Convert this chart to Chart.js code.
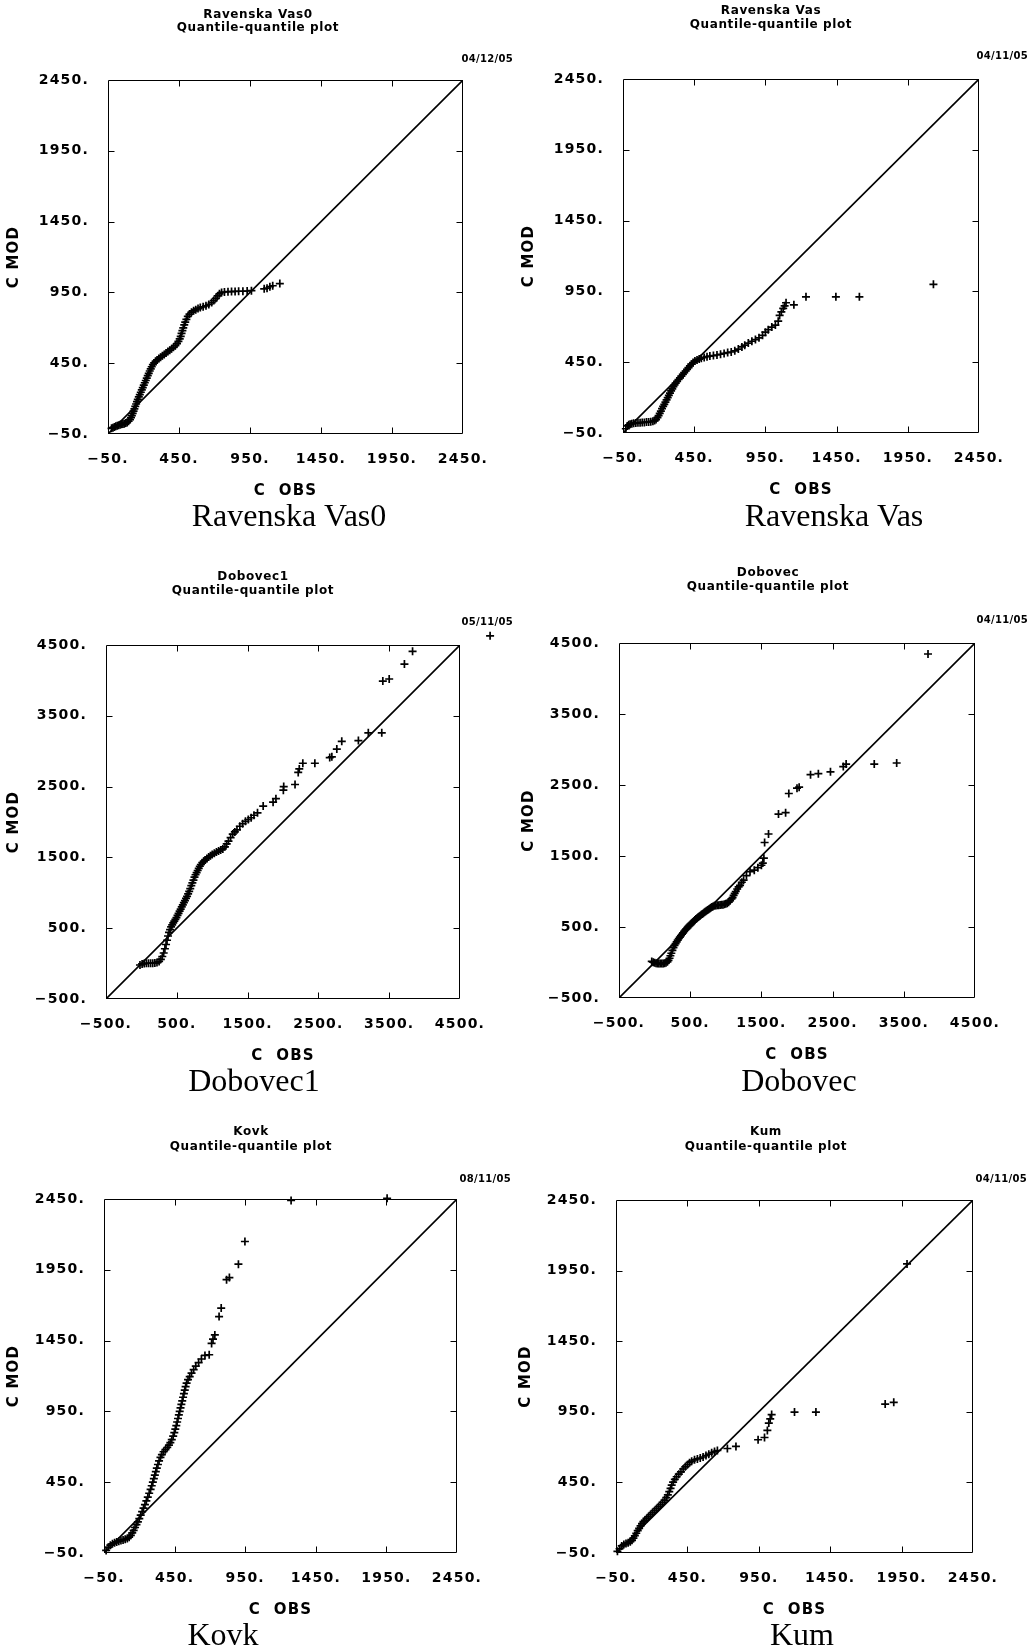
<!DOCTYPE html>
<html>
<head>
<meta charset="utf-8">
<script src="https://cdn.jsdelivr.net/npm/chart.js@4.4.1/dist/chart.umd.min.js"></script>
<style>
  html, body { margin: 0; padding: 0; background: #fff; }
  #page { position: relative; width: 1034px; height: 1650px; background: #fff; overflow: hidden; }
  canvas { position: absolute; }
</style>
</head>
<body>
<div id="page"></div>
<script>
// ---------- DATA ----------
const ticks2450 = [-50, 450, 950, 1450, 1950, 2450];
const ticks4500 = [-500, 500, 1500, 2500, 3500, 4500];

const stationNames = ['Ravenska Vas0', 'Ravenska Vas', 'Dobovec1', 'Dobovec', 'Kovk', 'Kum'];
const plotDates = ['04/12/05', '04/11/05', '05/11/05', '04/11/05', '08/11/05', '04/11/05'];
const plotSubtitle = 'Quantile-quantile plot';
const xAxisTitle = 'C  OBS';
const yAxisTitle = 'C MOD';

// [C OBS, C MOD] quantile pairs
const ravenskaVas0QQ = [[-25,-10],[-15,-5],[-5,0],[5,5],[15,8],[25,12],[35,15],[45,18],[55,20],[65,23],[75,27],[85,32],[95,40],[105,52],[112,65],[118,80],[124,95],[130,112],[136,128],[142,145],[148,162],[154,178],[160,195],[167,212],[174,228],[181,245],[188,262],[195,278],[202,295],[209,312],[216,328],[223,345],[230,362],[237,378],[244,395],[251,410],[258,425],[266,440],[275,452],[285,463],[296,473],[308,483],[320,492],[333,502],[346,512],[359,522],[372,532],[385,542],[398,552],[411,562],[424,574],[436,588],[446,604],[455,622],[462,640],[468,660],[474,680],[480,700],[487,720],[494,740],[502,760],[512,780],[524,797],[538,810],[553,820],[568,828],[584,836],[600,843],[620,848],[640,855],[660,865],[680,878],[695,892],[710,908],[722,925],[735,940],[750,950],[770,953],[795,955],[820,956],[845,957],[870,958],[900,958],[930,960],[960,962],[1050,975],[1070,980],[1090,990],[1110,997],[1160,1012]];

const ravenskaVasQQ = [[-30,-20],[-20,0],[-10,8],[0,12],[12,15],[25,18],[40,20],[55,22],[70,23],[85,24],[100,25],[115,27],[130,28],[145,30],[160,33],[172,38],[182,45],[192,58],[200,72],[208,88],[216,105],[224,122],[232,138],[240,152],[248,168],[256,184],[264,200],[272,216],[280,232],[288,248],[296,262],[304,277],[312,290],[320,302],[330,315],[340,328],[350,340],[360,352],[370,364],[380,376],[390,388],[400,400],[410,412],[420,424],[430,436],[442,448],[455,458],[470,466],[485,472],[500,478],[520,484],[540,489],[560,493],[585,497],[610,501],[635,506],[660,512],[685,518],[710,522],[735,530],[760,543],[785,558],[805,570],[830,585],[855,598],[880,610],[905,622],[930,640],[950,662],[970,680],[995,698],[1020,712],[1040,740],[1050,780],[1062,805],[1075,830],[1085,848],[1095,870],[1150,855],[1235,912],[1445,912],[1610,912],[2130,1000]];

const dobovec1QQ = [[-20,-20],[10,-5],[40,0],[70,5],[100,5],[130,5],[160,5],[190,8],[220,15],[250,30],[275,60],[295,100],[315,150],[332,210],[348,270],[362,330],[376,390],[390,440],[405,480],[420,520],[435,548],[450,575],[465,600],[480,625],[495,650],[510,680],[525,710],[540,740],[555,770],[570,800],[585,830],[600,860],[615,890],[630,920],[645,950],[660,985],[675,1020],[690,1060],[705,1100],[720,1140],[735,1180],[750,1220],[765,1255],[780,1285],[795,1315],[810,1345],[825,1375],[840,1400],[860,1425],[880,1445],[900,1462],[925,1485],[950,1505],[975,1522],[1000,1540],[1030,1560],[1060,1575],[1090,1590],[1120,1605],[1150,1620],[1180,1650],[1205,1690],[1230,1730],[1260,1780],[1290,1830],[1320,1860],[1350,1890],[1390,1940],[1430,1975],[1470,2010],[1510,2035],[1550,2060],[1590,2095],[1640,2130],[1720,2225],[1860,2280],[1900,2330],[2005,2450],[2010,2500],[2170,2530],[2215,2700],[2230,2750],[2280,2830],[2450,2830],[2660,2910],[2690,2920],[2760,3030],[2830,3140],[3065,3150],[3205,3260],[3395,3260],[3410,3990],[3500,4020],[3715,4230],[3830,4410],[4925,4630]];

const dobovecQQ = [[-40,15],[-20,5],[0,-5],[20,-12],[40,-15],[60,-15],[80,-15],[100,-15],[120,-15],[140,-12],[160,-5],[180,10],[195,30],[210,60],[222,95],[235,130],[250,170],[265,210],[280,240],[295,265],[310,290],[325,315],[340,338],[355,358],[370,378],[385,398],[400,418],[415,438],[430,458],[445,475],[460,492],[475,508],[490,522],[505,536],[520,552],[535,567],[550,582],[565,597],[580,612],[595,625],[610,637],[625,648],[640,660],[655,672],[670,684],[685,695],[700,706],[715,717],[730,728],[745,740],[760,750],[775,760],[790,770],[805,780],[820,790],[840,798],[860,803],[880,806],[900,808],[920,810],[940,812],[960,815],[980,820],[1000,826],[1020,835],[1040,850],[1060,870],[1080,895],[1095,915],[1110,945],[1125,975],[1140,1000],[1160,1035],[1180,1065],[1200,1085],[1225,1130],[1250,1160],[1290,1225],[1340,1280],[1400,1300],[1450,1335],[1500,1370],[1520,1400],[1535,1470],[1545,1690],[1600,1810],[1740,2090],[1840,2110],[1885,2380],[2000,2455],[2030,2470],[2190,2645],[2300,2660],[2470,2685],[2650,2760],[2690,2795],[3085,2795],[3400,2810],[3840,4345]];

const kovkQQ = [[-35,-32],[-20,-10],[-5,5],[10,15],[25,22],[40,28],[55,33],[70,38],[85,42],[100,47],[115,53],[128,62],[140,75],[150,92],[160,110],[170,130],[180,150],[190,170],[200,193],[210,217],[220,242],[230,267],[240,292],[250,318],[260,345],[270,372],[280,400],[288,425],[296,450],[303,475],[310,500],[317,525],[324,550],[332,575],[340,600],[350,625],[360,645],[372,665],[385,680],[398,695],[410,712],[420,730],[430,750],[440,775],[448,800],[455,825],[462,850],[468,875],[474,900],[480,925],[486,950],[492,975],[498,1000],[504,1025],[510,1050],[516,1075],[522,1100],[528,1125],[535,1150],[545,1175],[557,1195],[570,1220],[585,1245],[600,1270],[620,1295],[640,1320],[665,1345],[695,1350],[712,1430],[722,1460],[735,1490],[765,1620],[780,1680],[818,1880],[838,1895],[902,1990],[948,2150],[1275,2440],[1955,2455]];

const kumQQ = [[-40,-38],[-25,-20],[-10,0],[5,10],[20,17],[35,22],[50,30],[62,40],[72,55],[82,72],[92,90],[102,108],[112,125],[122,142],[132,158],[142,172],[152,182],[165,195],[178,208],[192,222],[206,236],[220,250],[234,264],[248,278],[262,292],[276,308],[290,325],[302,342],[313,362],[323,385],[332,408],[340,430],[350,452],[362,472],[375,490],[390,508],[405,525],[420,545],[435,560],[450,575],[465,590],[480,600],[500,610],[520,616],[540,622],[560,630],[580,640],[600,650],[620,660],[640,668],[660,676],[730,690],[790,705],[945,752],[990,768],[1010,818],[1020,870],[1030,900],[1040,930],[1200,948],[1350,948],[1835,1005],[1895,1017],[1988,1997]];

const panelSeries = [ravenskaVas0QQ, ravenskaVasQQ, dobovec1QQ, dobovecQQ, kovkQQ, kumQQ];
const panelTicks = [ticks2450, ticks2450, ticks4500, ticks4500, ticks2450, ticks2450];

// ---------- LAYOUT (page pixels) ----------
const layout = [
  {ox:0,   oy:0,    w:517, h:545, box:[108,80,463,434],    tx:258, ty:[15,28],     dx:513,  dy:59,   cx:289, cy:518,  yt:14},
  {ox:517, oy:0,    w:517, h:545, box:[623,79,979,433],    tx:771, ty:[11,25],     dx:1028, dy:56,   cx:834, cy:518,  yt:529},
  {ox:0,   oy:545,  w:517, h:550, box:[106,645,460,999],   tx:253, ty:[577,591],   dx:513,  dy:622,  cx:254, cy:1083, yt:14},
  {ox:517, oy:545,  w:517, h:550, box:[619,643,975,998],   tx:768, ty:[573,587],   dx:1028, dy:620,  cx:799, cy:1083, yt:529},
  {ox:0,   oy:1095, w:517, h:555, box:[104,1199,457,1553], tx:251, ty:[1132,1147], dx:511,  dy:1179, cx:223, cy:1637, yt:14},
  {ox:517, oy:1095, w:517, h:555, box:[616,1200,973,1553], tx:766, ty:[1132,1147], dx:1027, dy:1179, cx:802, cy:1637, yt:526}
];

const X_AXIS_H = 70;
const MARK_R = 4;
const MARK_W = 1.7;
const tickFont = {family: '"DejaVu Sans"', size: 14, weight: 'bold', lineHeight: 1.2};
const axisTitleFont = {family: '"DejaVu Sans"', size: 15, weight: 'bold', lineHeight: 1.2};
const fmtTick = v => (v < 0 ? '\u2212' + Math.abs(v) : String(v)) + '.';

function makeDecor(L, idx) {
  return {
    id: 'decor' + idx,
    beforeDraw(chart) {
      // plotter-style lettering for axis text
      chart.ctx.letterSpacing = '1.2px';
    },
    afterDatasetsDraw(chart) {
      const {ctx, chartArea: a, scales} = chart;
      const tks = panelTicks[idx];
      ctx.save();
      ctx.strokeStyle = '#000';
      ctx.lineWidth = 1;
      const l = Math.round(a.left) + 0.5, r = Math.round(a.right) - 0.5;
      const t = Math.round(a.top) + 0.5, b = Math.round(a.bottom) - 0.5;
      ctx.beginPath();
      ctx.moveTo(l, t); ctx.lineTo(l, b); ctx.lineTo(r, b); ctx.lineTo(r, t); ctx.closePath();
      ctx.stroke();
      const len = 6;
      ctx.beginPath();
      for (let i = 1; i < tks.length - 1; i++) {
        const px = Math.round(scales.x.getPixelForValue(tks[i])) + 0.5;
        ctx.moveTo(px, b); ctx.lineTo(px, b - len);
        ctx.moveTo(px, t); ctx.lineTo(px, t + len);
        const py = Math.round(scales.y.getPixelForValue(tks[i])) + 0.5;
        ctx.moveTo(l, py); ctx.lineTo(l + len, py);
        ctx.moveTo(r, py); ctx.lineTo(r - len, py);
      }
      ctx.stroke();
      // quantile points lying beyond the frame (Chart.js skips those), placed via the chart's scales
      ctx.lineWidth = MARK_W;
      ctx.beginPath();
      panelSeries[idx].forEach(p => {
        const px = scales.x.getPixelForValue(p[0]);
        const py = scales.y.getPixelForValue(p[1]);
        if (px > a.right + MARK_R || px < a.left - MARK_R || py < a.top - MARK_R || py > a.bottom + MARK_R) {
          ctx.moveTo(px - MARK_R, py); ctx.lineTo(px + MARK_R, py);
          ctx.moveTo(px, py - MARK_R); ctx.lineTo(px, py + MARK_R);
        }
      });
      ctx.stroke();
      ctx.restore();
    },
    afterDraw(chart) {
      const ctx = chart.ctx;
      ctx.save();
      ctx.fillStyle = '#000';
      ctx.textBaseline = 'middle';
      ctx.textAlign = 'center';
      ctx.letterSpacing = '0.6px';
      ctx.font = 'bold 12px "DejaVu Sans"';
      ctx.fillText(stationNames[idx], L.tx - L.ox, L.ty[0] - L.oy);
      ctx.fillText(plotSubtitle, L.tx - L.ox, L.ty[1] - L.oy);
      ctx.letterSpacing = '0.3px';
      ctx.font = 'bold 10px "DejaVu Sans"';
      ctx.textAlign = 'right';
      ctx.fillText(plotDates[idx], L.dx - L.ox, L.dy - L.oy);
      ctx.letterSpacing = '0px';
      ctx.font = '32px "Liberation Serif"';
      ctx.textAlign = 'center';
      ctx.fillText(stationNames[idx], L.cx - L.ox, L.cy - L.oy);
      ctx.restore();
    }
  };
}

const page = document.getElementById('page');
layout.forEach((L, idx) => {
  const cv = document.createElement('canvas');
  cv.width = L.w; cv.height = L.h;
  cv.style.left = L.ox + 'px'; cv.style.top = L.oy + 'px';
  cv.style.width = L.w + 'px'; cv.style.height = L.h + 'px';
  page.appendChild(cv);

  const tks = panelTicks[idx];
  const lo = tks[0], hi = tks[tks.length - 1];
  const [bl, bt, br, bb] = L.box;
  const pts = panelSeries[idx].map(p => ({x: p[0], y: p[1]}));

  new Chart(cv, {
    type: 'scatter',
    data: {
      datasets: [
        {
          label: 'quantiles',
          data: pts,
          pointStyle: 'cross',
          pointRadius: MARK_R,
          pointBorderWidth: MARK_W,
          borderColor: '#000',
          backgroundColor: '#000',
          showLine: false,
          clip: false,
          order: 1
        },
        {
          label: '1:1',
          data: [{x: lo, y: lo}, {x: hi, y: hi}],
          showLine: true,
          borderColor: '#000',
          borderWidth: 1.6,
          pointRadius: 0,
          order: 2
        }
      ]
    },
    options: {
      responsive: false,
      animation: false,
      devicePixelRatio: 1,
      events: [],
      layout: {
        padding: {
          left: 0,
          top: bt - L.oy,
          right: L.ox + L.w - br,
          bottom: L.oy + L.h - bb - X_AXIS_H
        }
      },
      plugins: { legend: {display: false}, tooltip: {enabled: false}, title: {display: false} },
      scales: {
        x: {
          type: 'linear', position: 'bottom', min: lo, max: hi,
          afterBuildTicks: s => { s.ticks = tks.map(v => ({value: v})); },
          afterFit: s => { s.height = X_AXIS_H; },
          grid: {display: false, drawTicks: false},
          border: {display: false},
          ticks: {padding: 17, color: '#000', font: tickFont, callback: fmtTick, maxRotation: 0, autoSkip: false},
          title: {display: true, text: xAxisTitle, color: '#000', font: axisTitleFont, padding: {top: 0, bottom: 4}}
        },
        y: {
          type: 'linear', position: 'left', min: lo, max: hi,
          afterBuildTicks: s => { s.ticks = tks.map(v => ({value: v})); },
          afterFit: s => { s.width = bl - L.ox; },
          grid: {display: false, drawTicks: false},
          border: {display: false},
          ticks: {padding: 19, color: '#000', font: tickFont, callback: fmtTick, autoSkip: false},
          title: {display: true, text: yAxisTitle, color: '#000', font: axisTitleFont, padding: {top: Math.max(0, L.yt - L.ox - 9), bottom: 0}}
        }
      }
    },
    plugins: [makeDecor(L, idx)]
  });
});
</script>
</body>
</html>
